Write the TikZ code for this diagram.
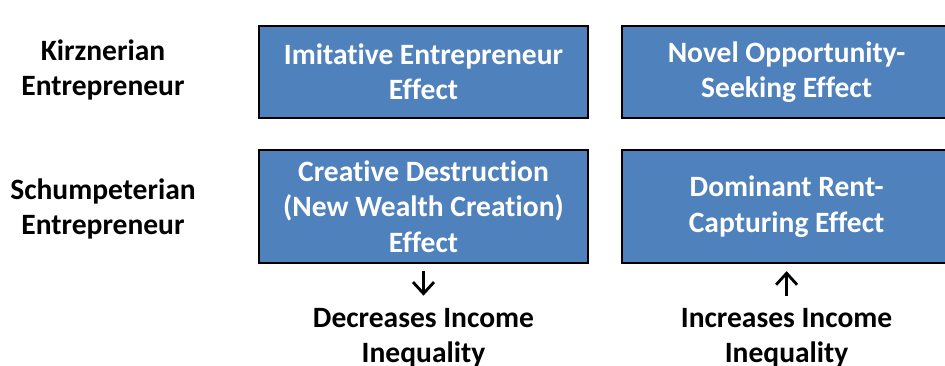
\documentclass[tikz,border=0pt]{standalone}
\usepackage{fontspec}
\setmainfont{Carlito}[Ligatures=NoCommon]
\usepackage{tikz}
\usetikzlibrary{arrows.meta}
\usetikzlibrary{positioning}
\definecolor{effblue}{RGB}{79,129,189}

\begin{document}
\begin{tikzpicture}[>={Straight Barb[length=2.3mm,width=4.2mm]},line width=1.6pt,node distance=0.6cm,font=\bfseries\fontsize{16.8}{20}\selectfont]
  \tikzstyle{effect}=[draw=black,fill=effblue,text=white,align=center,minimum width=6.58cm,inner sep=0pt,line width=1.2pt]
  \tikzstyle{kind}=[align=center,text=black,inner sep=0pt]
  \useasboundingbox (0,0) rectangle (18.9,7.3);
  % the four effects
  \node [effect,minimum height=1.84cm] (imit) at (8.47,5.86) {Imitative Entrepreneur\\Effect};
  \node [effect,minimum height=1.84cm,right=0.64cm of imit] (novel) {Novel Opportunity-\\Seeking Effect};
  \node [effect,minimum height=2.26cm,below=0.6cm of imit] (creat) {Creative Destruction\\(New Wealth Creation)\\Effect};
  \node [effect,minimum height=2.26cm,right=0.64cm of creat] (rent) {Dominant Rent-\\Capturing Effect};
  % row labels
  \node [kind] (kirz) at (2.06,5.9) {Kirznerian\\Entrepreneur};
  \node [kind] (schum) at (2.06,3.12) {Schumpeterian\\Entrepreneur};
  % outcomes
  \node [kind,below=0.85cm of creat] (decr) {Decreases Income\\Inequality};
  \node [kind,below=0.85cm of rent] (incr) {Increases Income\\Inequality};
  \draw [->,shorten <=0.14cm,shorten >=0.22cm] (creat) -- (decr);
  \draw [->,shorten <=0.22cm,shorten >=0.14cm] (incr) -- (rent);
\end{tikzpicture}
\end{document}
